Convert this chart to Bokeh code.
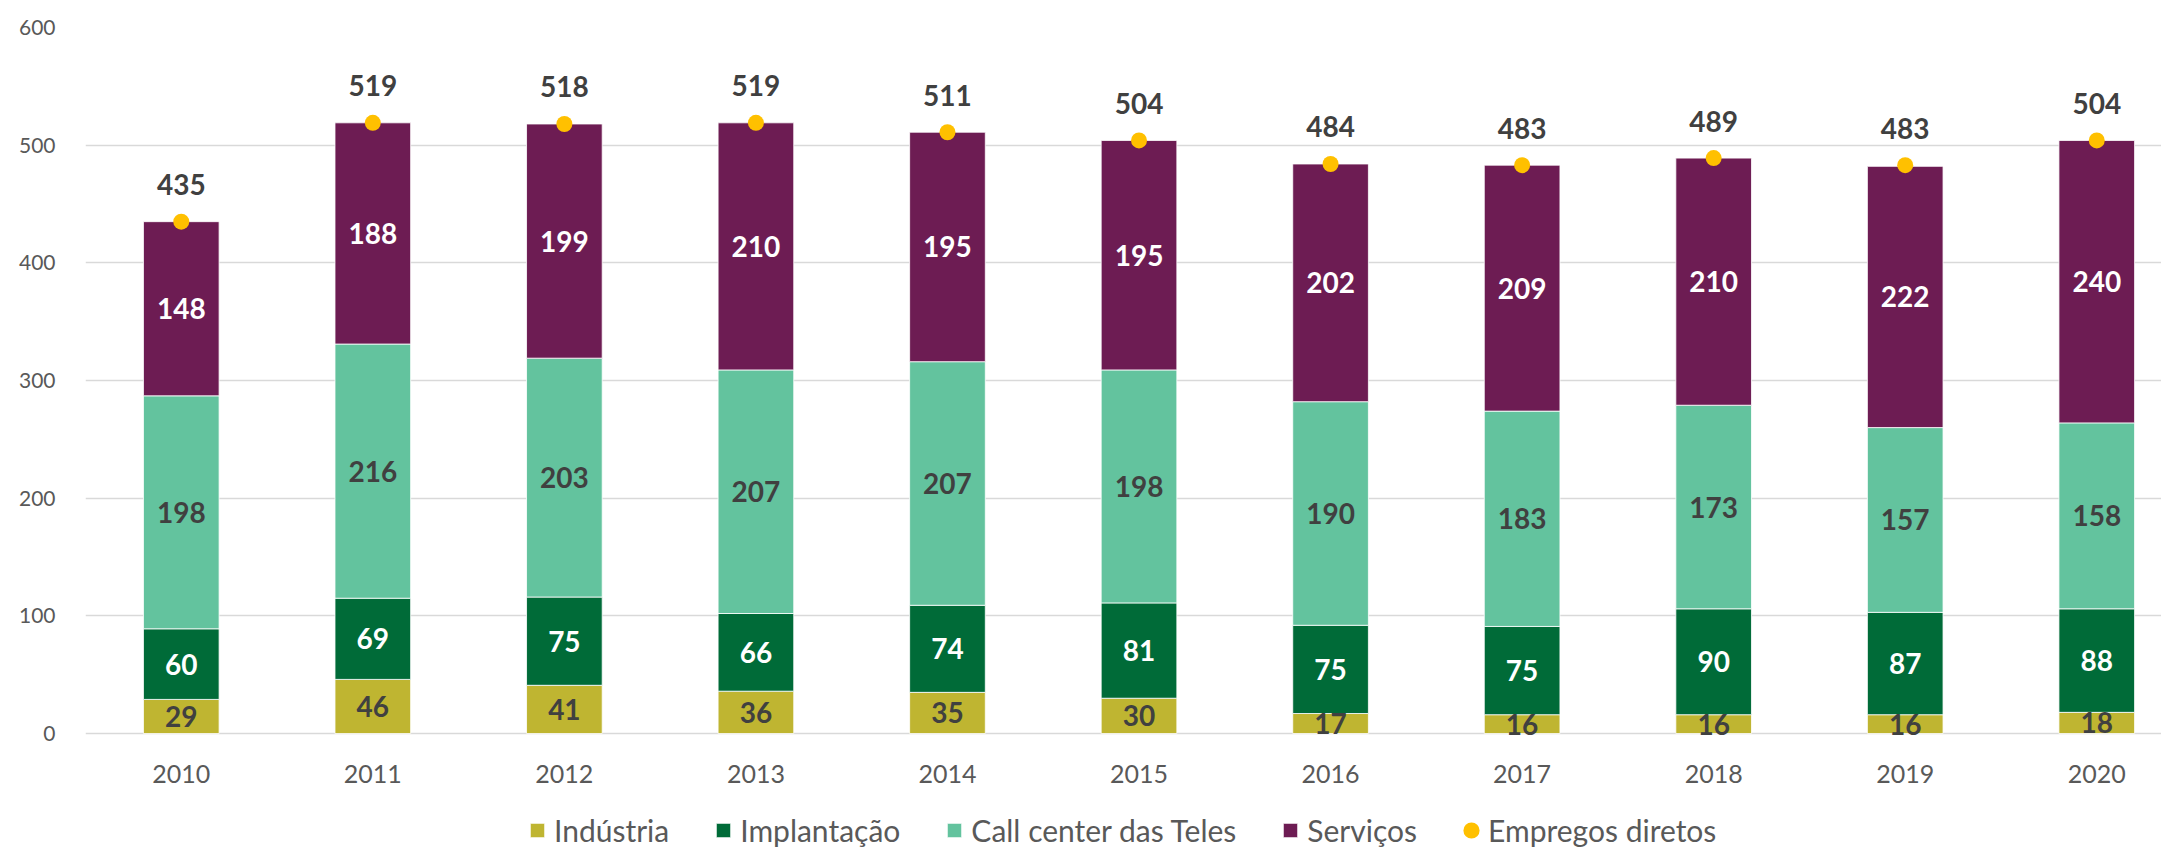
from bokeh.plotting import figure
from bokeh.models import (ColumnDataSource, Range1d, FixedTicker, Legend, LegendItem)
from bokeh.core.properties import value
from bokeh.embed import file_html
from bokeh.resources import INLINE

# ---- data ----
years = [2010, 2011, 2012, 2013, 2014, 2015, 2016, 2017, 2018, 2019, 2020]
year_labels = ["2010", "2011", "2012", "2013", "2014", "2015", "2016", "2017", "2018", "2019", "2020"]
industria = [29, 46, 41, 36, 35, 30, 17, 16, 16, 16, 18]
implantacao = [60, 69, 75, 66, 74, 81, 75, 75, 90, 87, 88]
call_center = [198, 216, 203, 207, 207, 198, 190, 183, 173, 157, 158]
servicos = [148, 188, 199, 210, 195, 195, 202, 209, 210, 222, 240]
empregos_diretos = [435, 519, 518, 519, 511, 504, 484, 483, 489, 483, 504]
y_ticks = [0, 100, 200, 300, 400, 500, 600]

series_names = ["Indústria", "Implantação", "Call center das Teles", "Serviços"]
series_keys = ["industria", "implantacao", "call_center", "servicos"]
series_values = [industria, implantacao, call_center, servicos]
series_colors = ["#BFB531", "#006B38", "#63C39E", "#6D1C53"]
label_colors = ["#404040", "#FFFFFF", "#404040", "#FFFFFF"]
dot_color = "#FFC000"

FONT = "Lato"

src = ColumnDataSource(data=dict(x=years, industria=industria, implantacao=implantacao,
                                 call_center=call_center, servicos=servicos,
                                 total=empregos_diretos,
                                 total_txt=[str(v) for v in empregos_diretos]))

p = figure(width=2161, height=848, output_backend="svg", toolbar_location=None,
           x_range=Range1d(2009.5, 2020.338), y_range=Range1d(-97.7, 600),
           min_border_left=85, min_border_right=0, min_border_top=27, min_border_bottom=0)
p.outline_line_color = None
p.background_fill_color = "white"
p.border_fill_color = "white"

bars = p.vbar_stack(series_keys, x="x", width=0.395, color=series_colors,
                    line_color="white", line_width=0.8, source=src)

dots = p.scatter(x="x", y="total", size=16, color=dot_color, line_color=None, source=src)
# legend-only renderer so the legend dot is drawn at a comparable size
dots_legend = p.scatter(x="x", y="total", size=7, fill_color=dot_color,
                        line_color=dot_color, line_width=9, source=src, visible=False)

# segment labels
lx, ly, lt, lc = [], [], [], []
for i, yr in enumerate(years):
    base = 0
    for vals, col in zip(series_values, label_colors):
        v = vals[i]
        lx.append(yr)
        ly.append(base + v / 2)
        lt.append(str(v))
        lc.append(col)
        base += v
lsrc = ColumnDataSource(data=dict(x=lx, y=ly, t=lt, c=lc))
p.text(x="x", y="y", text="t", text_color="c", source=lsrc,
       text_font=value(FONT), text_font_size="28px", text_font_style="bold",
       text_align="center", text_baseline="middle")

p.text(x="x", y="total", text="total_txt", source=src, y_offset=-37,
       text_color="#404040", text_font=value(FONT), text_font_size="28px",
       text_font_style="bold", text_align="center", text_baseline="middle")

# axes
p.xaxis.fixed_location = 0
p.xaxis.ticker = FixedTicker(ticks=years)
p.xaxis.major_label_overrides = {y: l for y, l in zip(years, year_labels)}
p.xaxis.axis_line_color = None
p.xaxis.major_tick_line_color = None
p.xaxis.minor_tick_line_color = None
p.xaxis.major_label_standoff = 25
p.xaxis.major_label_text_font = FONT
p.xaxis.major_label_text_font_size = "25px"
p.xaxis.major_label_text_color = "#595959"

p.yaxis.ticker = FixedTicker(ticks=y_ticks)
p.yaxis.axis_line_color = None
p.yaxis.major_tick_line_color = None
p.yaxis.minor_tick_line_color = None
p.yaxis.major_label_standoff = 24
p.yaxis.major_label_text_font = FONT
p.yaxis.major_label_text_font_size = "21px"
p.yaxis.major_label_text_color = "#595959"

p.xgrid.grid_line_color = None
p.ygrid.ticker = FixedTicker(ticks=y_ticks)
p.ygrid.grid_line_color = "#D9D9D9"
p.ygrid.grid_line_width = 1.5

items = [LegendItem(label=n, renderers=[r]) for n, r in zip(series_names, bars)]
items.append(LegendItem(label="Empregos diretos", renderers=[dots_legend]))
legend = Legend(items=items, orientation="horizontal", location=(443, 0),
                glyph_width=18, glyph_height=18, label_standoff=8, spacing=45,
                padding=0, margin=0, border_line_color=None, background_fill_alpha=0,
                label_text_font=FONT, label_text_font_size="30px",
                label_text_color="#595959", click_policy="none")
p.add_layout(legend, "center")

open("out.html", "w").write(file_html(p, INLINE))
